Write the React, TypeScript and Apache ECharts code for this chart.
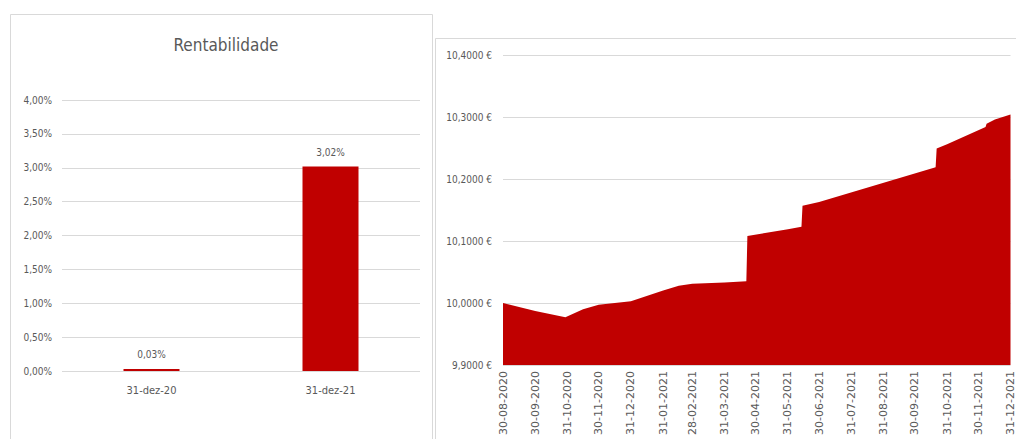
import React, { useEffect, useRef } from "react";
import * as echarts from "echarts";

// Left chart: Rentabilidade
const barCategories = ["31-dez-20", "31-dez-21"];
const barValues = [0.03, 3.02];
const barTicks = { min: 0, max: 4, interval: 0.5 };

// Right chart: unit value (€)
const areaDates = [
  "2020-08-30", "2020-09-30", "2020-10-29", "2020-11-15", "2020-11-30",
  "2020-12-31", "2021-01-31", "2021-02-15", "2021-02-28", "2021-03-31",
  "2021-04-21", "2021-04-22", "2021-05-31", "2021-06-13", "2021-06-14",
  "2021-06-30", "2021-10-20", "2021-10-21", "2021-10-31", "2021-12-07",
  "2021-12-08", "2021-12-16", "2021-12-31",
];
const areaValues = [
  10.0, 9.987, 9.977, 9.99, 9.997,
  10.003, 10.02, 10.028, 10.031, 10.033,
  10.035, 10.108, 10.119, 10.123, 10.157,
  10.163, 10.219, 10.249, 10.256, 10.284,
  10.289, 10.296, 10.304,
];
const monthTicks = [
  "2020-08-30", "2020-09-30", "2020-10-31", "2020-11-30", "2020-12-31",
  "2021-01-31", "2021-02-28", "2021-03-31", "2021-04-30", "2021-05-31",
  "2021-06-30", "2021-07-31", "2021-08-31", "2021-09-30", "2021-10-31",
  "2021-11-30", "2021-12-31",
];
const priceTicks = { min: 9.9, max: 10.4, interval: 0.1 };

const toTs = (s: string) => {
  const [y, m, d] = s.split("-").map(Number);
  return Date.UTC(y, m - 1, d);
};
const pad = (n: number) => (n < 10 ? "0" + n : "" + n);
const fmtDate = (ts: number) => {
  const d = new Date(ts);
  return pad(d.getUTCDate()) + "-" + pad(d.getUTCMonth() + 1) + "-" + d.getUTCFullYear();
};

const FONT = "'Liberation Sans Narrow', 'DejaVu Sans Condensed', Roboto, sans-serif";
const TXT = "#595959";
const GRID = "#d9d9d9";
const RED = "#C00000";

export default function App() {
  const ref = useRef<HTMLDivElement>(null);
  useEffect(() => {
    if (!ref.current) return;
    const chart = echarts.init(ref.current, undefined, { renderer: "svg" });
    const tickTs = monthTicks.map(toTs);
    chart.setOption({
      animation: false,
      backgroundColor: "#ffffff",
      textStyle: { fontFamily: FONT },
      title: {
        text: "Rentabilidade",
        left: 221,
        top: 31,
        textAlign: "center",
        textStyle: { fontFamily: FONT, fontSize: 17, fontWeight: "normal", color: TXT },
      },
      graphic: [
        {
          type: "rect",
          shape: { x: 10.5, y: 14.5, width: 422, height: 440 },
          style: { fill: "none", stroke: GRID, lineWidth: 1 },
          silent: true,
        },
        {
          type: "rect",
          shape: { x: 435.5, y: 38.5, width: 600, height: 440 },
          style: { fill: "none", stroke: GRID, lineWidth: 1 },
          silent: true,
        },
      ],
      grid: [
        { left: 62, right: 596, top: 100, bottom: 68 },
        { left: 503, right: 4, top: 55, bottom: 74 },
      ],
      xAxis: [
        {
          type: "category",
          gridIndex: 0,
          data: barCategories,
          axisLine: { show: false },
          axisTick: { show: false },
          axisLabel: { color: TXT, fontSize: 11, margin: 14, fontFamily: FONT },
        },
        {
          type: "value",
          gridIndex: 1,
          min: toTs("2020-08-30"),
          max: toTs("2021-12-31"),
          axisLine: { show: false },
          axisTick: { show: false, customValues: tickTs },
          splitLine: { show: false },
          axisLabel: {
            customValues: tickTs,
            rotate: 90,
            color: TXT,
            fontSize: 11,
            margin: 6,
            fontFamily: "'DejaVu Sans', 'Liberation Sans', sans-serif",
            showMinLabel: true,
            showMaxLabel: true,
            hideOverlap: false,
            formatter: (v: number) => fmtDate(v),
          },
        },
      ],
      yAxis: [
        {
          type: "value",
          gridIndex: 0,
          min: barTicks.min,
          max: barTicks.max,
          interval: barTicks.interval,
          axisLine: { show: false },
          axisTick: { show: false },
          splitLine: { lineStyle: { color: GRID, width: 1 } },
          axisLabel: {
            color: TXT,
            fontSize: 10,
            margin: 10,
            fontFamily: FONT,
            formatter: (v: number) => v.toFixed(2).replace(".", ",") + "%",
          },
        },
        {
          type: "value",
          gridIndex: 1,
          min: priceTicks.min,
          max: priceTicks.max,
          interval: priceTicks.interval,
          axisLine: { show: false },
          axisTick: { show: false },
          splitLine: { lineStyle: { color: GRID, width: 1 } },
          axisLabel: {
            color: TXT,
            fontSize: 10,
            margin: 11,
            fontFamily: FONT,
            formatter: (v: number) => v.toFixed(4).replace(".", ",") + " €",
          },
        },
      ],
      series: [
        {
          type: "bar",
          xAxisIndex: 0,
          yAxisIndex: 0,
          data: barValues,
          barWidth: 56,
          itemStyle: { color: RED },
          label: {
            show: true,
            position: "top",
            distance: 9,
            color: TXT,
            fontSize: 10,
            fontFamily: FONT,
            formatter: (p: any) => p.value.toFixed(2).replace(".", ",") + "%",
          },
        },
        {
          type: "line",
          xAxisIndex: 1,
          yAxisIndex: 1,
          data: areaDates.map((d, i) => [toTs(d), areaValues[i]]),
          symbol: "none",
          lineStyle: { width: 0, color: RED },
          areaStyle: { color: RED, opacity: 1 },
          itemStyle: { color: RED },
        },
      ],
    });
    return () => chart.dispose();
  }, []);
  return (
    <div
      ref={ref}
      style={{ position: "fixed", left: 0, top: 0, width: 1016, height: 439 }}
    />
  );
}
